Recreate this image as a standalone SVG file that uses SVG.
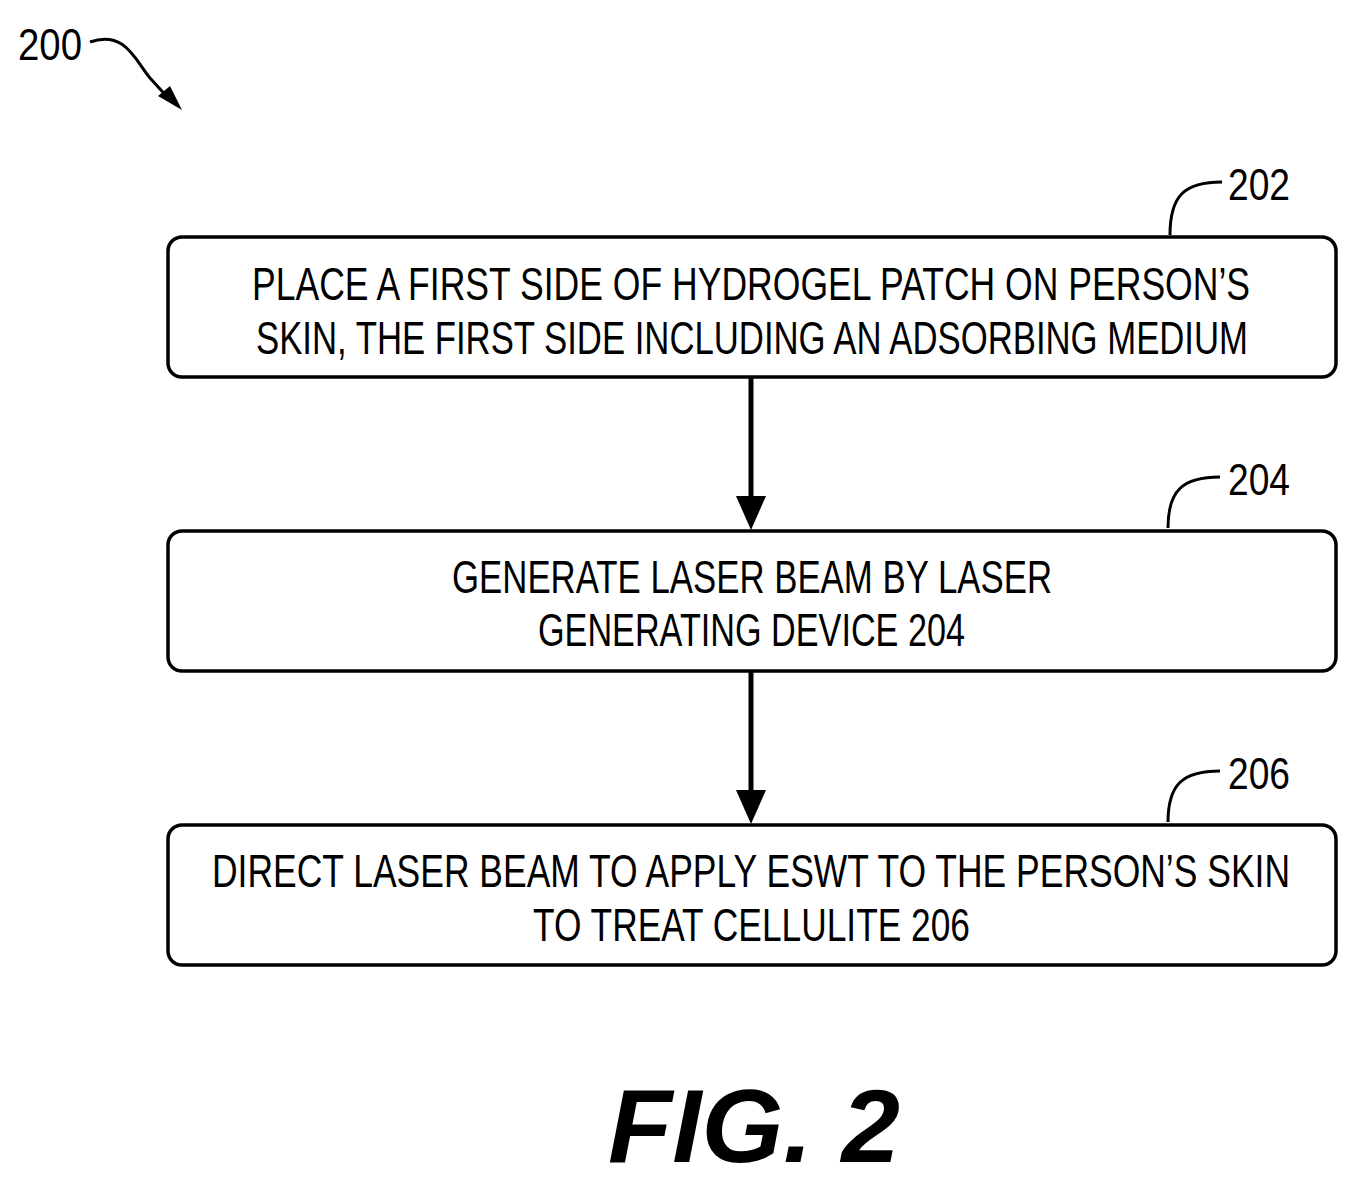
<svg xmlns="http://www.w3.org/2000/svg" width="1359" height="1185" viewBox="0 0 1359 1185">
<style>
.box{fill:#fff;stroke:#000;stroke-width:3.5}
.t{font-family:"Liberation Sans",Arial,sans-serif;font-size:46px;fill:#000}
.lbl{font-family:"Liberation Sans",Arial,sans-serif;font-size:44px;fill:#000}
.ln{fill:none;stroke:#000;stroke-width:3}
.cn{fill:none;stroke:#000;stroke-width:5}
</style>
<rect width="1359" height="1185" fill="#fff"/>
<g id="label200">
<text class="lbl" x="18" y="60" textLength="64" lengthAdjust="spacingAndGlyphs">200</text>
<path class="ln" d="M90,42 C125,30 135,60 150,78 L170,100"/>
<path d="M182,110 L158,96 L170,86 z"/>
</g>
<g id="connectors">
<line class="cn" x1="751" y1="377" x2="751" y2="500"/>
<path d="M736,496 L766,496 L751,530 z"/>
<line class="cn" x1="751" y1="671" x2="751" y2="794"/>
<path d="M736,790 L766,790 L751,824 z"/>
</g>
<g id="n202">
<rect class="box" x="168" y="237" width="1168" height="140" rx="14"/>
<text class="t" x="252" y="300" textLength="998" lengthAdjust="spacingAndGlyphs">PLACE  A  FIRST  SIDE  OF  HYDROGEL  PATCH  ON  PERSON’S</text>
<text class="t" x="256" y="354" textLength="992" lengthAdjust="spacingAndGlyphs">SKIN,  THE  FIRST  SIDE  INCLUDING  AN  ADSORBING  MEDIUM</text>
<path class="ln" d="M1170,235 C1170,195 1185,182 1222,182"/>
<text class="lbl" x="1228" y="200" textLength="62" lengthAdjust="spacingAndGlyphs">202</text>
</g>
<g id="n204">
<rect class="box" x="168" y="531" width="1168" height="140" rx="14"/>
<text class="t" x="452" y="593" textLength="600" lengthAdjust="spacingAndGlyphs">GENERATE  LASER  BEAM  BY  LASER</text>
<text class="t" x="538" y="646" textLength="427" lengthAdjust="spacingAndGlyphs">GENERATING  DEVICE  204</text>
<path class="ln" d="M1168,528 C1168,490 1183,477 1220,477"/>
<text class="lbl" x="1228" y="495" textLength="62" lengthAdjust="spacingAndGlyphs">204</text>
</g>
<g id="n206">
<rect class="box" x="168" y="825" width="1168" height="140" rx="14"/>
<text class="t" x="212" y="887" textLength="1078" lengthAdjust="spacingAndGlyphs">DIRECT  LASER  BEAM  TO  APPLY  ESWT  TO  THE  PERSON’S  SKIN</text>
<text class="t" x="533" y="941" textLength="437" lengthAdjust="spacingAndGlyphs">TO  TREAT  CELLULITE  206</text>
<path class="ln" d="M1168,822 C1168,784 1183,771 1220,771"/>
<text class="lbl" x="1228" y="789" textLength="62" lengthAdjust="spacingAndGlyphs">206</text>
</g>
<text x="608" y="1162" font-family="Liberation Sans,Arial,sans-serif" font-size="104" font-style="italic" font-weight="bold" textLength="292" lengthAdjust="spacingAndGlyphs">FIG.  2</text>
</svg>
